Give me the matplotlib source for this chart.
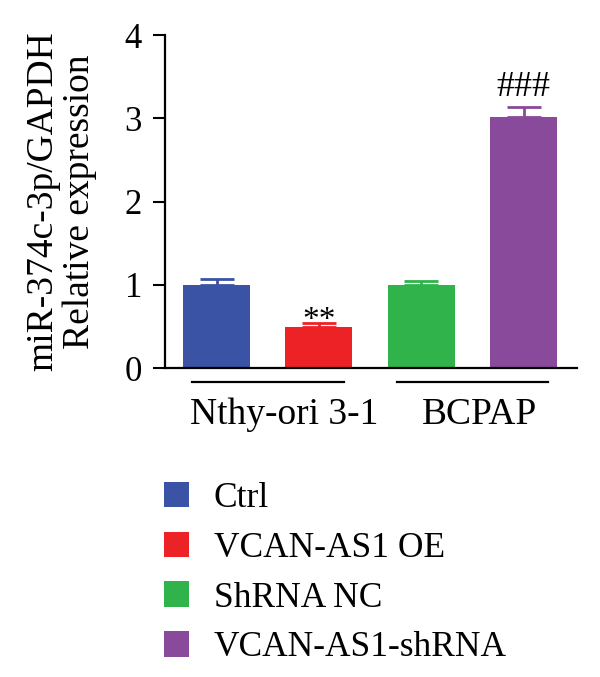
import matplotlib.pyplot as plt
from matplotlib.patches import Patch
from matplotlib.transforms import blended_transform_factory

plt.rcParams['font.family'] = ['Liberation Serif', 'DejaVu Serif']

conditions = ['Ctrl', 'VCAN-AS1 OE', 'ShRNA NC', 'VCAN-AS1-shRNA']
values = [1.0, 0.49, 1.0, 3.02]
errors = [0.075, 0.05, 0.04, 0.11]
marks = ['', '**', '', '###']
colors = ['#3A53A4', '#EC2227', '#2FB34A', '#8A4A9C']
groups = ['Nthy-ori 3-1', 'BCPAP']
group_members = [[0, 1], [2, 3]]

# vertical gap above the error cap for each kind of mark (glyphs sit differently)
mark_gap = {'**': -0.15, '###': 0.045}
# group labels are set a little right of the line centre in the original
label_shift = [0.16, 0.07]

fig = plt.figure(figsize=(6, 6.77), dpi=100)
# axes box: x 165..577 px, y 35..368 px
ax = fig.add_axes([0.275, 0.4564, 0.6867, 0.4918])

xpos = list(range(len(values)))
for i in xpos:
    ax.bar(i, values[i], width=0.655, color=colors[i])
    ax.errorbar(i, values[i], yerr=[[0], [errors[i]]], fmt='none',
                ecolor=colors[i], elinewidth=2, capsize=12.5, capthick=2)
    if marks[i]:
        ax.text(i, values[i] + errors[i] + mark_gap[marks[i]], marks[i],
                ha='center', va='bottom', fontsize=26 if marks[i] == '###' else 24)

ax.set_xlim(-0.503, 3.52)
ax.set_ylim(0, 4)
ax.set_yticks([0, 1, 2, 3, 4])
ax.tick_params(axis='y', labelsize=25, width=1.5, length=8.5, pad=8)
ax.set_xticks([])
for s in ['top', 'right']:
    ax.spines[s].set_visible(False)
for s in ['left', 'bottom']:
    ax.spines[s].set_linewidth(1.6)
ax.set_ylabel('miR-374c-3p/GAPDH\nRelative expression', fontsize=27, linespacing=1.1,
              labelpad=20)

trans = blended_transform_factory(ax.transData, ax.transAxes)
for name, members, dx in zip(groups, group_members, label_shift):
    x0 = xpos[members[0]] - 0.235
    x1 = xpos[members[-1]] + 0.24
    ax.plot([x0, x1], [-0.042, -0.042], color='black', lw=1.6, transform=trans,
            clip_on=False)
    ax.text((x0 + x1) / 2 + dx, -0.14, name, ha='center', va='center', fontsize=27,
            transform=trans)

handles = [Patch(facecolor=c, edgecolor='none') for c in colors]
fig.legend(handles, conditions, loc='upper left', bbox_to_anchor=(0.249, 0.309),
           frameon=False, fontsize=25.5, handlelength=0.73, handleheight=0.73,
           handletextpad=0.68, labelspacing=0.47, borderaxespad=0)

fig.savefig('out.png', dpi=100)
